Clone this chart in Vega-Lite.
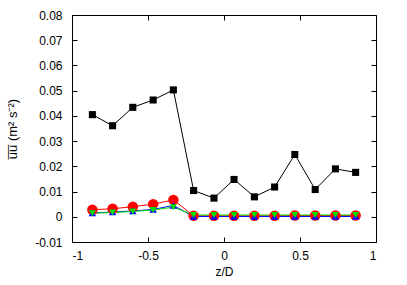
{
  "$schema": "https://vega.github.io/schema/vega-lite/v6.json",
  "width": 304,
  "height": 227,
  "autosize": {"type": "none"},
  "padding": {"left": 72, "top": 15, "right": 31, "bottom": 43},
  "background": "white",
  "config": {
    "view": {"stroke": "black", "strokeWidth": 1},
    "font": "Liberation Sans",
    "axis": {
      "grid": false,
      "domain": false,
      "tickColor": "black",
      "tickSize": -5,
      "labelColor": "black",
      "labelFontSize": 12,
      "titleFontSize": 12,
      "titleFontWeight": "normal",
      "titleColor": "black"
    }
  },
  "data": {
    "values": [
      {"z": -0.866, "s": "A", "v": 0.0405}, {"z": -0.733, "s": "A", "v": 0.0361}, {"z": -0.6, "s": "A", "v": 0.0434}, {"z": -0.466, "s": "A", "v": 0.0463}, {"z": -0.333, "s": "A", "v": 0.0503}, {"z": -0.2, "s": "A", "v": 0.0104}, {"z": -0.066, "s": "A", "v": 0.0074}, {"z": 0.066, "s": "A", "v": 0.0148}, {"z": 0.2, "s": "A", "v": 0.0079}, {"z": 0.333, "s": "A", "v": 0.0118}, {"z": 0.466, "s": "A", "v": 0.0247}, {"z": 0.6, "s": "A", "v": 0.0108}, {"z": 0.733, "s": "A", "v": 0.019}, {"z": 0.866, "s": "A", "v": 0.0176},
      {"z": -0.866, "s": "B", "v": 0.0028}, {"z": -0.733, "s": "B", "v": 0.0032}, {"z": -0.6, "s": "B", "v": 0.004}, {"z": -0.466, "s": "B", "v": 0.005}, {"z": -0.333, "s": "B", "v": 0.0067}, {"z": -0.2, "s": "B", "v": 0.0004}, {"z": -0.066, "s": "B", "v": 0.0004}, {"z": 0.066, "s": "B", "v": 0.0004}, {"z": 0.2, "s": "B", "v": 0.0004}, {"z": 0.333, "s": "B", "v": 0.0004}, {"z": 0.466, "s": "B", "v": 0.0005}, {"z": 0.6, "s": "B", "v": 0.0005}, {"z": 0.733, "s": "B", "v": 0.0005}, {"z": 0.866, "s": "B", "v": 0.0005},
      {"z": -0.866, "s": "C", "v": 0.0015}, {"z": -0.733, "s": "C", "v": 0.0019}, {"z": -0.6, "s": "C", "v": 0.0023}, {"z": -0.466, "s": "C", "v": 0.0029}, {"z": -0.333, "s": "C", "v": 0.0045}, {"z": -0.2, "s": "C", "v": 0.0001}, {"z": -0.066, "s": "C", "v": 0.0001}, {"z": 0.066, "s": "C", "v": 0.0001}, {"z": 0.2, "s": "C", "v": 0.0001}, {"z": 0.333, "s": "C", "v": 0.0001}, {"z": 0.466, "s": "C", "v": 0.0001}, {"z": 0.6, "s": "C", "v": 0.0001}, {"z": 0.733, "s": "C", "v": 0.0001}, {"z": 0.866, "s": "C", "v": 0.0001},
      {"z": -0.866, "s": "D", "v": 0.0014}, {"z": -0.733, "s": "D", "v": 0.0017}, {"z": -0.6, "s": "D", "v": 0.0021}, {"z": -0.466, "s": "D", "v": 0.0027}, {"z": -0.333, "s": "D", "v": 0.0038}, {"z": -0.2, "s": "D", "v": 0.0007}, {"z": -0.066, "s": "D", "v": 0.0007}, {"z": 0.066, "s": "D", "v": 0.0007}, {"z": 0.2, "s": "D", "v": 0.0007}, {"z": 0.333, "s": "D", "v": 0.0007}, {"z": 0.466, "s": "D", "v": 0.0007}, {"z": 0.6, "s": "D", "v": 0.0007}, {"z": 0.733, "s": "D", "v": 0.0007}, {"z": 0.866, "s": "D", "v": 0.0007}
    ]
  },
  "resolve": {"axis": {"x": "independent", "y": "independent"}},
  "layer": [
    {
      "mark": {"type": "line", "strokeWidth": 1},
      "encoding": {
        "x": {"field": "z", "type": "quantitative", "scale": {"domain": [-1, 1], "nice": false, "zero": false},
          "axis": {"values": [-1, -0.5, 0, 0.5, 1], "title": "z/D", "labelExpr": "'' + datum.value", "labelPadding": 13, "titlePadding": 5}},
        "y": {"field": "v", "type": "quantitative", "scale": {"domain": [-0.01, 0.08], "nice": false, "zero": false},
          "axis": {"values": [-0.01, 0, 0.01, 0.02, 0.03, 0.04, 0.05, 0.06, 0.07, 0.08], "title": "u̅u̅  (m² s⁻²)", "titleFontSize": 13, "labelExpr": "'' + datum.value", "labelPadding": 15, "titlePadding": 15}},
        "color": {"field": "s", "type": "nominal", "scale": {"domain": ["A", "B", "C", "D"], "range": ["#000000", "#ff0000", "#0000ff", "#00e000"]}, "legend": null}
      }
    },
    {
      "mark": {"type": "point", "filled": true, "opacity": 1},
      "encoding": {
        "x": {"field": "z", "type": "quantitative", "axis": null},
        "y": {"field": "v", "type": "quantitative", "axis": null},
        "color": {"field": "s", "type": "nominal", "legend": null},
        "shape": {"field": "s", "type": "nominal", "scale": {"domain": ["A", "B", "C", "D"], "range": ["square", "circle", "triangle-up", "triangle-down"]}, "legend": null},
        "size": {"field": "s", "type": "nominal", "scale": {"type": "ordinal", "domain": ["A", "B", "C", "D"], "range": [50, 110, 55, 50]}, "legend": null}
      }
    },
    {
      "mark": {"type": "point", "opacity": 0},
      "encoding": {
        "x": {"field": "z", "type": "quantitative", "axis": {"orient": "top", "values": [-1, -0.5, 0, 0.5, 1], "labels": false, "title": null}},
        "y": {"field": "v", "type": "quantitative", "axis": {"orient": "right", "values": [-0.01, 0, 0.01, 0.02, 0.03, 0.04, 0.05, 0.06, 0.07, 0.08], "labels": false, "title": null}}
      }
    }
  ]
}
